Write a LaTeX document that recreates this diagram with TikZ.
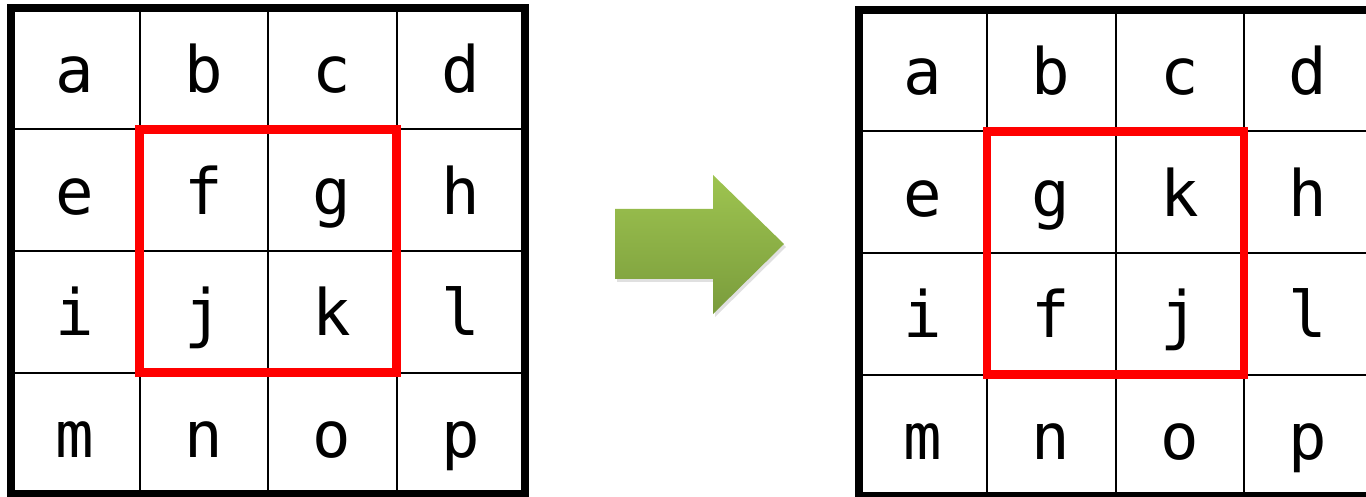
\documentclass[tikz,border=0pt]{standalone}
\usepackage{fontspec}
\newfontfamily\gridfont{DejaVu Sans Mono}
\definecolor{arrowtop}{RGB}{158,196,80}
\definecolor{arrowbot}{RGB}{122,156,60}
\newcommand\mygrid[5]{% #1 prefix, #2 x0, #3 y0, #4 letters
  \foreach \k in {1,2,3}{
    \draw[thingrid] ({#2+\k*128.5},#3) -- ({#2+\k*128.5},{#3+486});
    \draw[thingrid] (#2,{#3+\k*121.5}) -- ({#2+514},{#3+\k*121.5});
  }
  \foreach \L [count=\i from 0] in {#4}{
    \pgfmathtruncatemacro\col{mod(\i,4)}
    \pgfmathtruncatemacro\row{int(\i/4)}
    \node[letter] (#1\L) at ({#2+(\col+0.5)*128.5},{#3+(\row+0.5)*121.5+24}) {\L};
  }
  \draw[frame] (#2,#3) rectangle ({#2+514},{#3+486});
  \draw[sel] ({#2+128.5},{#3+121.5}) rectangle ({#2+385.5},{#3+364.5});
}
\begin{document}
\begin{tikzpicture}[x=1pt,y=-1pt,
  thingrid/.style={line width=2pt,black},
  frame/.style={line width=8pt,black,line join=miter},
  sel/.style={line width=8.5pt,red,line join=miter},
  letter/.style={anchor=base,inner sep=0pt,font=\gridfont\fontsize{64}{64}\selectfont}]
\useasboundingbox (0,0) rectangle (1366,497);
\clip (0,0) rectangle (1366,497);
\fill[white] (0,0) rectangle (1366,497);
\mygrid{L}{11}{8}{a,b,c,d,e,f,g,h,i,j,k,l,m,n,o,p}{}
\mygrid{R}{858.5}{10}{a,b,c,d,e,g,k,h,i,f,j,l,m,n,o,p}{}
% block arrow
\fill[black,opacity=0.12] (617,212) -- (715,212) -- (715,178) -- (786,247) -- (715,317) -- (715,282) -- (617,282) -- cycle;
\shade[top color=arrowtop,bottom color=arrowbot] (615,209) -- (713,209) -- (713,175) -- (784,244) -- (713,314) -- (713,279) -- (615,279) -- cycle;
\end{tikzpicture}
\end{document}
